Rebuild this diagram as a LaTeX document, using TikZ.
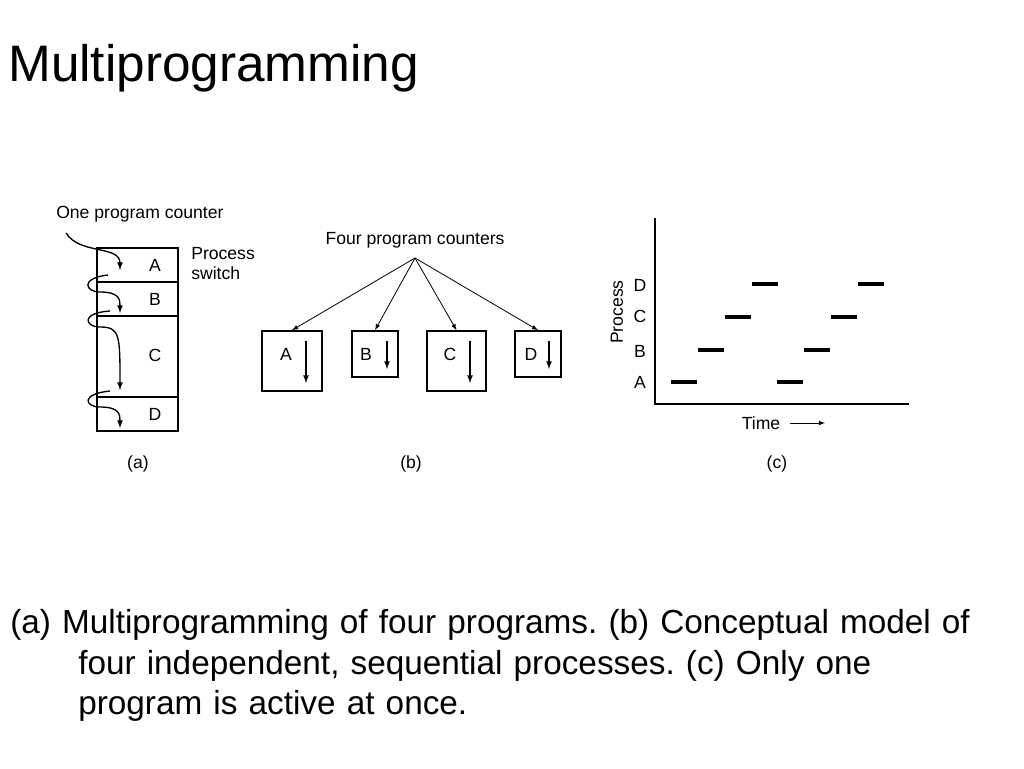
\documentclass[tikz,border=0pt]{standalone}
\usepackage{fontspec}
\setmainfont{Liberation Sans}
\frenchspacing
\begin{document}
\begin{tikzpicture}[x=0.75pt,y=-0.75pt,
 lbl/.style={font=\fontsize{13.2}{15}\selectfont,inner sep=0},
 box/.style={draw,line width=1.2pt},
 arr/.style={-latex,line width=1pt},
 bar/.style={line width=2.5pt}]
\useasboundingbox (0,0) rectangle (1024,768);
\node[anchor=west,inner sep=0,font=\fontsize{38.5}{42}\selectfont] (title) at (8,68) {Multiprogramming};
% (a)
\draw[box] (97,248) rectangle (178,431);
\draw[line width=1.2pt] (97,282)--(178,282) (97,316)--(178,316) (97,397)--(178,397);
\node[lbl] (la) at (155,265) {A};
\node[lbl] (lb) at (155,299) {B};
\node[lbl] (lc) at (155,355) {C};
\node[lbl] (ld) at (155,414) {D};
\node[lbl,anchor=west] (opc) at (56,214) {One program counter};
\node[lbl,anchor=north west,align=left] (ps) at (191,247) {Process\\switch};
\draw[arr] (66,233) .. controls (80,255) and (120,245) .. (120,270);
\draw[arr] (108,275) .. controls (80,278) and (85,292) .. (100,292) .. controls (120,292) and (120,300) .. (120,313);
\draw[arr] (110,311) .. controls (80,313) and (85,327) .. (100,327) .. controls (120,327) and (120,335) .. (120,390);
\draw[arr] (110,391) .. controls (80,394) and (85,407) .. (100,407) .. controls (120,407) and (120,415) .. (120,428);
\node[lbl] (ca) at (138,464) {(a)};
% (b)
\node[lbl] (fpc) at (415,240) {Four program counters};
\coordinate (apex) at (415,258);
\node[box,minimum width=45pt,minimum height=45pt,inner sep=0] (bA) at (292,361) {};
\node[box,minimum width=34.5pt,minimum height=34.5pt,inner sep=0] (bB) at (375,354) {};
\node[box,minimum width=44pt,minimum height=45pt,inner sep=0] (bC) at (456.5,361) {};
\node[box,minimum width=34.5pt,minimum height=34.5pt,inner sep=0] (bD) at (538,354) {};
\foreach \b in {bA,bB,bC,bD} \draw[arr,line width=0.6pt] (apex) -- (\b.north);
\node[lbl] at (286,354) {A};
\node[lbl] at (366,354) {B};
\node[lbl] at (450,354) {C};
\node[lbl] at (531,354) {D};
\draw[arr] (306,341)--(306,383);
\draw[arr] (387,341)--(387,369);
\draw[arr] (470,341)--(470,383);
\draw[arr] (549,341)--(549,369);
\node[lbl] (cb) at (411,464) {(b)};
% (c)
\coordinate (o) at (655,404);
\draw[line width=1.2pt] (655,218)--(o)--(909,404);
\node[lbl] at (640,285) {D};
\node[lbl] at (640,316) {C};
\node[lbl] at (640,351) {B};
\node[lbl] at (640,382) {A};
\node[lbl,rotate=90] at (617,312) {Process};
\draw[bar] (671,382)--(697,382) (777,382)--(803,382)
 (698,350)--(724,350) (804,350)--(830,350)
 (725,317)--(751,317) (831,317)--(857,317)
 (752,284)--(778,284) (858,284)--(884,284);
\node[lbl] (time) at (761,423) {Time};
\draw[arr,line width=0.6pt] (790,423)--(825,423);
\node[lbl] (cc) at (777,464) {(c)};
% caption
\node[anchor=north west,inner sep=0,align=left,font=\fontsize{25}{30.5}\selectfont,text width=760pt] (cap) at (10,609)
 {(a) Multiprogramming of four programs. (b) Conceptual model of\\\hspace*{51pt}four independent, sequential processes. (c) Only one\\\hspace*{51pt}program is active at once.};
\end{tikzpicture}
\end{document}
